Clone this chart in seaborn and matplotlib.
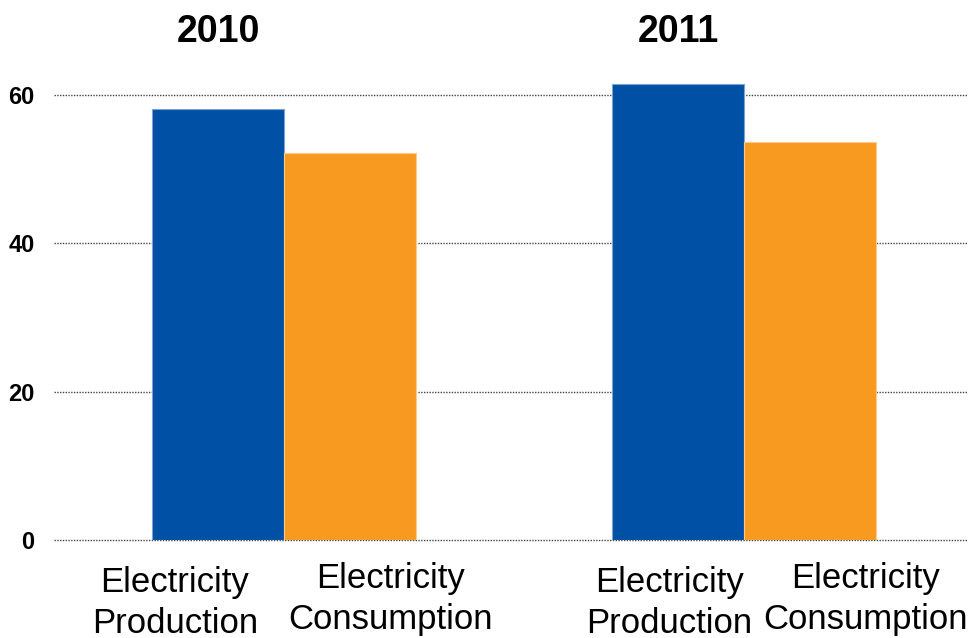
import pandas as pd
import matplotlib.pyplot as plt
import seaborn as sns

# data
years = ['2010', '2011']
series = ['Electricity\nProduction', 'Electricity\nConsumption']
production = [58.1, 61.5]
consumption = [52.2, 53.7]
y_ticks = [0, 20, 40, 60]

df = pd.DataFrame({
    'Year': years * 2,
    'Series': [series[0]] * len(years) + [series[1]] * len(years),
    'Value': production + consumption,
})

sns.set_style('white')
plt.rcParams['font.family'] = ['Liberation Sans', 'DejaVu Sans']
plt.rcParams['text.color'] = 'black'

fig = plt.figure(figsize=(9.68, 6.38), dpi=100)
ax = fig.add_axes([54 / 968, 98 / 638, 914 / 968, 519.2 / 638])

colors = ['#0050A5', '#F99A20']
sns.barplot(data=df, x='Year', y='Value', hue='Series', palette=colors,
            width=0.572, saturation=1, legend=False, ax=ax)

edge_colors = ['#7FA3D0', '#FCCB8C']
for cont, ec in zip(ax.containers, edge_colors):
    for bar in cont:
        bar.set_edgecolor(ec)
        bar.set_linewidth(0.8)

ax.set_xlim(-0.5, 1.487)
ax.set_ylim(0, 70)
ax.set_yticks(y_ticks)
ax.set_yticklabels([str(t) for t in y_ticks], fontweight='bold', fontsize=17,
                   color='black')
ax.tick_params(axis='y', length=0, pad=14)
ax.set_xticks([])
ax.set_xlabel('')
ax.set_ylabel('')
ax.yaxis.grid(True, linestyle=(0, (1, 1)), color='#444444', linewidth=1)
for gl in ax.get_ygridlines():
    gl.set_clip_on(False)
ax.set_axisbelow(True)
sns.despine(ax=ax, left=True, bottom=True)

# year titles above the production bars
for bar, year in zip(ax.containers[0], years):
    xc = bar.get_x() + bar.get_width() / 2
    ax.text(xc, 67.15, year, ha='center', va='baseline',
            fontweight='bold', fontsize=27, clip_on=False)

# category labels under each bar (staggered like the original)
x_shift = [[-31.3, -6.5], [29.2, 40.0]]
y_shift = [-18.7, -15.8]
for cont, name, xs, ys in zip(ax.containers, series, x_shift, y_shift):
    for bar, dx in zip(cont, xs):
        xc = bar.get_x() + bar.get_width() / 2
        ax.annotate(name, xy=(xc, 0), xycoords=('data', 'axes fraction'),
                    xytext=(dx, ys), textcoords='offset points',
                    ha='center', va='top', fontsize=25, linespacing=1.3,
                    annotation_clip=False)

fig.savefig('out.png', dpi=100)
